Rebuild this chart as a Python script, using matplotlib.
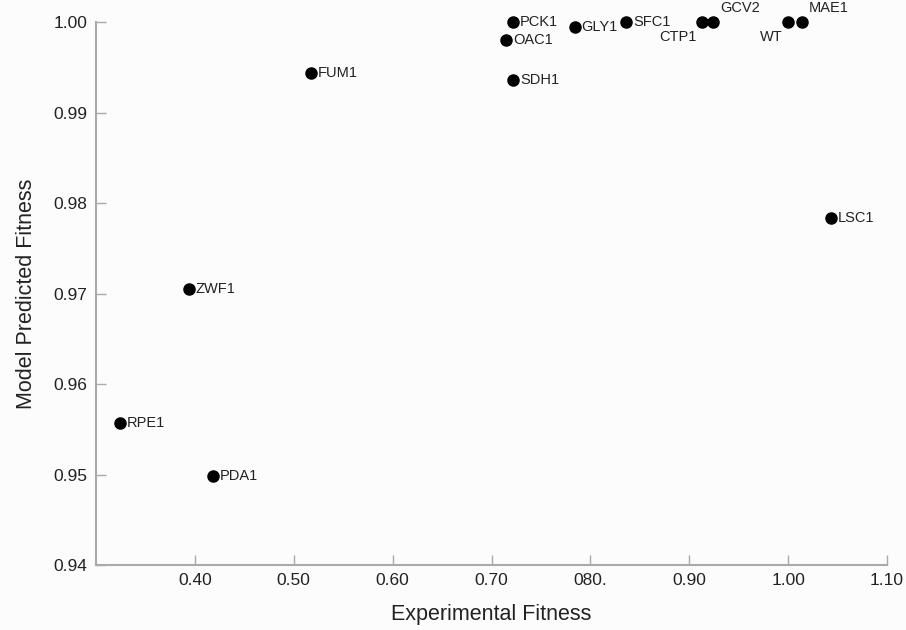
import matplotlib
matplotlib.use('Agg')
from matplotlib import pyplot as plt

plt.rcParams['font.family'] = ['Liberation Sans', 'DejaVu Sans']

genes = ['RPE1', 'PDA1', 'ZWF1', 'FUM1', 'PCK1', 'OAC1', 'SDH1', 'GLY1',
         'SFC1', 'CTP1', 'GCV2', 'WT', 'MAE1', 'LSC1']
experimental = [0.324, 0.418, 0.394, 0.517, 0.722, 0.715, 0.722, 0.784,
                0.836, 0.913, 0.924, 1.000, 1.014, 1.043]
predicted = [0.9557, 0.9498, 0.9705, 0.9944, 1.0000, 0.9980, 0.9936, 0.9994,
             1.0000, 1.0000, 1.0000, 1.0000, 1.0000, 0.9783]

x_ticks = [0.40, 0.50, 0.60, 0.70, 0.80, 0.90, 1.00, 1.10]
x_tick_labels = ['0.40', '0.50', '0.60', '0.70', '080.', '0.90', '1.00', '1.10']
y_ticks = [0.94, 0.95, 0.96, 0.97, 0.98, 0.99, 1.00]

# label placement (offset in points, alignment)
label_pos = {
    'CTP1': ((-4, -6), 'right', 'top'),
    'WT': ((-4, -6), 'right', 'top'),
    'GCV2': ((5, 5), 'left', 'bottom'),
    'MAE1': ((5, 5), 'left', 'bottom'),
}

fig = plt.figure(figsize=(9.06, 6.30), dpi=100, facecolor='#fcfcfc')
ax = fig.add_axes([0.106, 0.103, 0.873, 0.862])
ax.set_facecolor('#fcfcfc')

ax.plot(experimental, predicted, 'o', color='black', markersize=8, clip_on=False, zorder=3)

for g, x, y in zip(genes, experimental, predicted):
    off, ha, va = label_pos.get(g, ((5, 0), 'left', 'center'))
    ax.annotate(g, (x, y), xytext=off, textcoords='offset points',
                ha=ha, va=va, fontsize=10.5, color='#222222')

ax.set_xlim(0.30, 1.10)
ax.set_ylim(0.94, 1.00)
ax.set_xticks(x_ticks)
ax.set_xticklabels(x_tick_labels)
ax.set_yticks(y_ticks)
ax.set_yticklabels(['%.2f' % v for v in y_ticks])

for s in ['top', 'right']:
    ax.spines[s].set_visible(False)
for s in ['left', 'bottom']:
    ax.spines[s].set_color('#aaaaaa')
    ax.spines[s].set_linewidth(1.5)

ax.tick_params(direction='in', length=7, width=1, color='#aaaaaa',
               labelsize=12.5, labelcolor='#222222', pad=6)

ax.set_xlabel('Experimental Fitness', fontsize=15.5, color='#222222', labelpad=11)
ax.set_ylabel('Model Predicted Fitness', fontsize=15.5, color='#222222', labelpad=12)

plt.savefig('out.png', dpi=100, facecolor=fig.get_facecolor())
